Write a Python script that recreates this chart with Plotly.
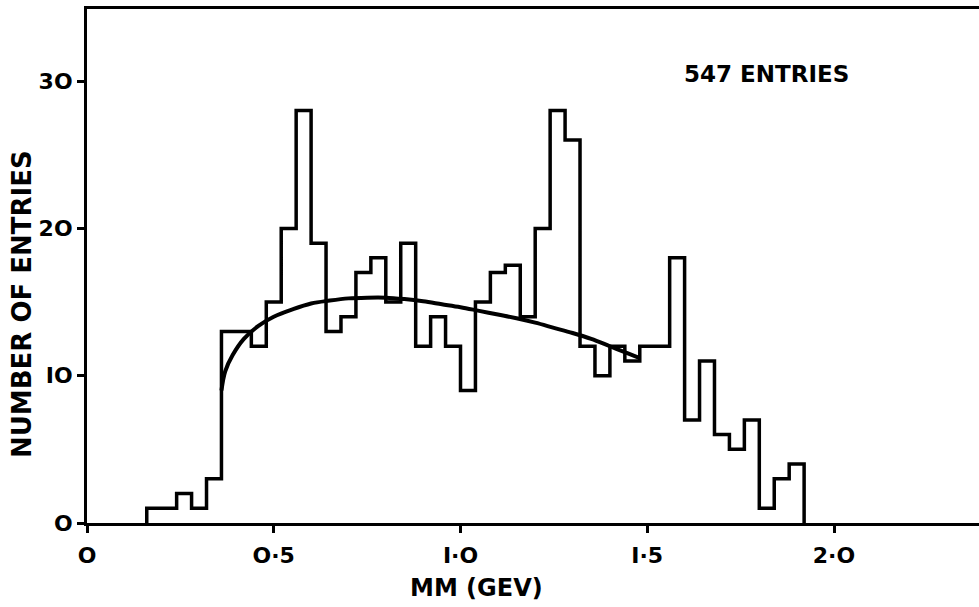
import plotly.graph_objects as go

# Histogram: missing mass, bins of 0.04 GeV starting at 0.16 GeV
bin_start = 0.16
bin_width = 0.04
counts = [1, 1, 2, 1, 3, 13, 13, 12, 15, 20, 28, 19, 13, 14, 17, 18, 15, 19,
          12, 14, 12, 9, 15, 17, 17.5, 14, 20, 28, 26, 12, 10, 12, 11, 12, 12,
          18, 7, 11, 6, 5, 7, 1, 3, 4]

# Smooth fitted curve
fit_x = [0.36, 0.37, 0.39, 0.42, 0.46, 0.50, 0.55, 0.60, 0.65, 0.70, 0.75,
         0.80, 0.85, 0.90, 0.95, 1.00, 1.05, 1.10, 1.15, 1.20, 1.25, 1.30,
         1.35, 1.40, 1.45, 1.48]
fit_y = [9.0, 10.3, 11.4, 12.5, 13.4, 14.0, 14.5, 14.9, 15.1, 15.25, 15.3,
         15.3, 15.2, 15.05, 14.85, 14.65, 14.4, 14.15, 13.9, 13.6, 13.25,
         12.9, 12.5, 12.0, 11.5, 11.2]

x_tickvals = [0, 0.5, 1.0, 1.5, 2.0]
x_ticktext = ["O", "O·5", "I·O", "I·5", "2·O"]
y_tickvals = [0, 10, 20, 30]
y_ticktext = ["O", "IO", "2O", "3O"]

edges = [round(bin_start + bin_width * i, 2) for i in range(len(counts) + 1)]
step_x = [edges[0]] + edges
step_y = [0] + counts + [0]

FONT = "DejaVu Sans"
W, H = 979, 607
L, R, T, B = 87, 0, 9, 84
PW, PH = W - L - R, H - T - B

fig = go.Figure()
fig.add_trace(go.Scatter(x=step_x, y=step_y, mode="lines",
                         line=dict(shape="hv", color="black", width=3.5),
                         hoverinfo="skip"))
fig.add_trace(go.Scatter(x=fit_x, y=fit_y, mode="lines",
                         line=dict(shape="spline", color="black", width=4),
                         hoverinfo="skip"))

fig.update_layout(
    template="none",
    width=W, height=H,
    margin=dict(l=L, r=R, t=T, b=B, pad=0, autoexpand=False),
    paper_bgcolor="white", plot_bgcolor="white",
    showlegend=False,
    font=dict(family=FONT, color="black", size=19, weight="bold"),
    xaxis=dict(range=[0, (W - L) / 373.5], showgrid=False, zeroline=False,
               automargin=False,
               showline=True, linecolor="black", linewidth=3, mirror=True,
               ticks="outside", ticklen=7, tickwidth=2.5, tickcolor="black",
               tickvals=x_tickvals, ticktext=x_ticktext,
               tickfont=dict(family=FONT, size=22, weight="bold"),
               ticklabelstandoff=4),
    yaxis=dict(range=[0, PH / 14.73], showgrid=False, zeroline=False,
               automargin=False,
               showline=True, linecolor="black", linewidth=3,
               ticks="outside", ticklen=7, tickwidth=2.5, tickcolor="black",
               tickvals=y_tickvals, ticktext=y_ticktext,
               tickfont=dict(family=FONT, size=22, weight="bold"),
               ticklabelstandoff=0),
    annotations=[
        dict(text="MM (GEV)", xref="paper", yref="paper",
             x=(476 - L) / PW, y=-(588 - (T + PH)) / PH, xanchor="center",
             yanchor="middle", showarrow=False,
             font=dict(family=FONT, size=24, weight="bold")),
        dict(text="NUMBER OF ENTRIES", xref="paper", yref="paper",
             x=-(L - 22) / PW, y=((T + PH) - 304) / PH, xanchor="center",
             yanchor="middle", textangle=-90, showarrow=False,
             font=dict(family=FONT, size=26, weight="bold")),
        dict(text="547 ENTRIES", xref="paper", yref="paper",
             x=(766 - L) / PW, y=((T + PH) - 74) / PH, xanchor="center",
             yanchor="middle", showarrow=False,
             font=dict(family=FONT, size=23, weight="bold")),
    ],
)

fig.write_html(
    "out.html",
    config={"displayModeBar": False},
    post_script="document.body.style.margin='0';"
                "document.body.style.overflow='hidden';",
)
